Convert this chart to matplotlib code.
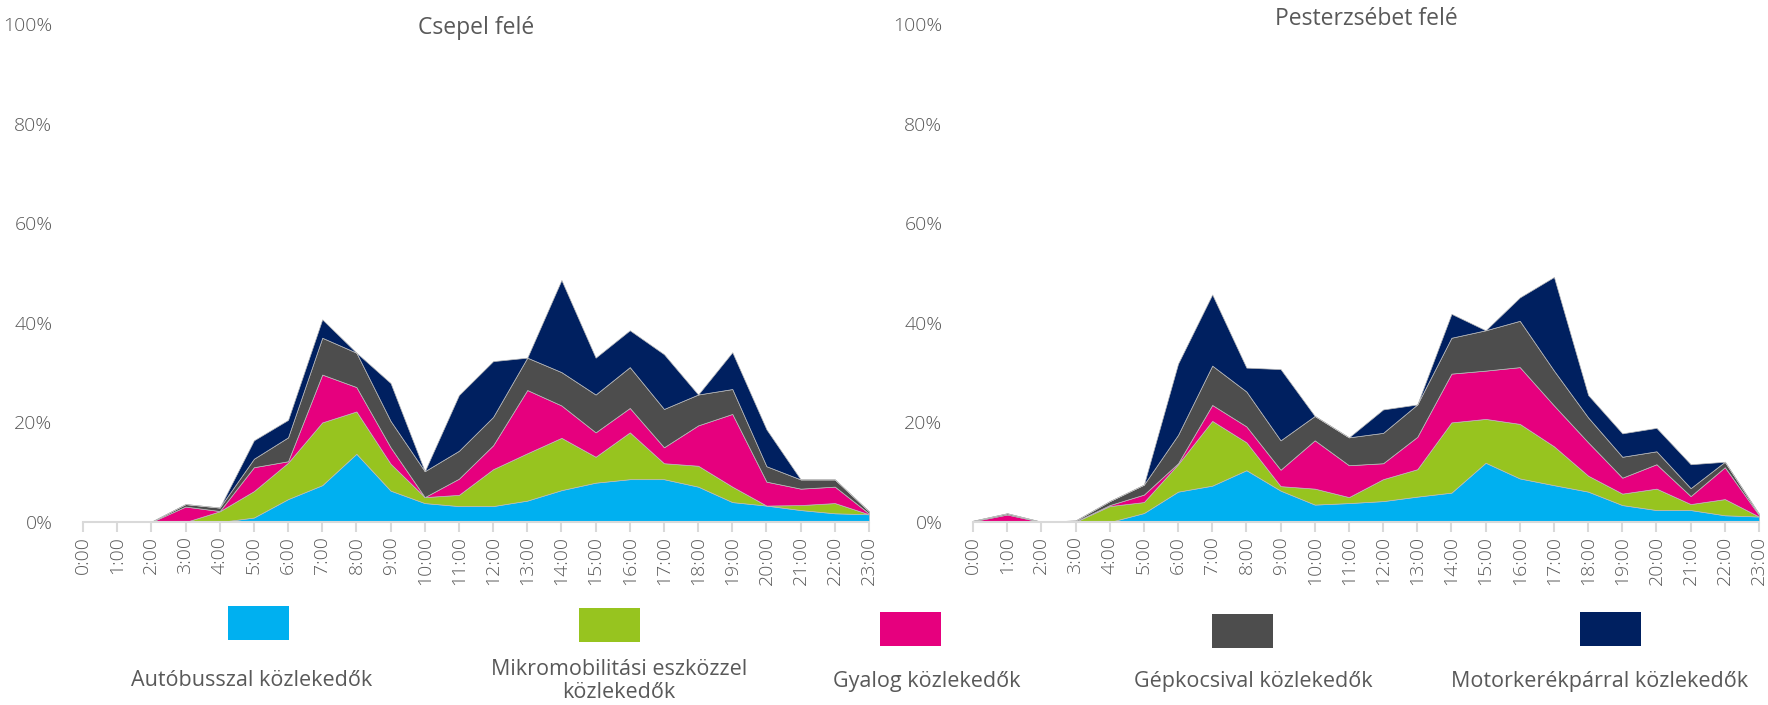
import matplotlib
matplotlib.use("Agg")
import matplotlib.pyplot as plt
from matplotlib.patches import Rectangle

W, H = 1768, 705
hours = [f"{h}:00" for h in range(24)]
yticks = [0, 20, 40, 60, 80, 100]
names = ["Autóbusszal közlekedők", "Mikromobilitási eszközzel\nközlekedők", "Gyalog közlekedők",
         "Gépkocsival közlekedők", "Motorkerékpárral közlekedők"]
colors = ["#00B0F0", "#97C41F", "#E6007E", "#4D4D4D", "#002060"]

csepel_busz = [0,0,0,0,0,0.9,4.6,7.4,13.7,6.3,3.8,3.2,3.2,4.3,6.4,7.9,8.6,8.6,7.1,4.0,3.3,2.4,1.75,1.55]
csepel_mikro = [0,0,0,0,2.15,5.3,7.3,12.6,8.5,5.4,1.2,2.25,7.4,9.5,10.5,5.2,9.4,3.2,4.2,3.1,0,1.0,2.05,0]
csepel_gyalog = [0,0,0,3.1,0.05,4.8,0.3,9.6,4.9,3.3,0,3.25,4.8,12.7,6.5,4.9,4.9,3.2,8.1,14.6,4.8,3.3,3.3,0.15]
csepel_auto = [.1,.05,.05,.5,.7,1.7,4.8,7.4,6.9,5.3,5.2,5.6,5.7,6.5,6.7,7.6,8.2,7.7,6.2,5.0,3.1,1.85,1.45,.45]
csepel_motor = [0,0,0,0,0,3.7,3.5,3.7,0,7.6,0,11.2,11.2,0,18.5,7.4,7.4,11,0,7.4,7.4,0,0,0]

pest_busz = [0,0,0,0,0,1.8,6.1,7.3,10.4,6.3,3.5,3.8,4.2,5.1,5.9,11.9,8.75,7.4,6.1,3.4,2.4,2.4,1.35,1.1]
pest_mikro = [0,0,0,.05,3.2,2.2,5.5,13,5.6,.9,3.2,1.2,4.4,5.5,14.1,8.8,10.95,7.8,3.2,2.3,4.3,1.2,3.25,0]
pest_gyalog = [.15,1.5,0,.05,.2,1.5,.2,3.2,3.2,3.3,9.7,6.4,3.2,6.5,9.8,9.7,11.4,8.2,6.7,3.2,4.9,1.6,6.4,.3]
pest_auto = [.1,.25,.05,.2,.8,2,5.7,7.9,7,5.9,4.9,5.6,6.1,6.5,7.2,8.1,9.3,7,5,4.2,2.6,1.6,1.1,.2]
pest_motor = [0,0,0,0,0,0,14.3,14.3,4.8,14.3,0,0,4.7,0,4.8,0,4.7,18.8,4.5,4.7,4.7,4.8,0,0]

plt.rcParams["font.family"] = ["Open Sans", "DejaVu Sans"]
TXT = "#595959"
fig = plt.figure(figsize=(W / 100, H / 100), dpi=100, facecolor="white")


def make_axes(x0, x1, ytop=24, ybot=522):
    return fig.add_axes([x0 / W, 1 - ybot / H, (x1 - x0) / W, (ybot - ytop) / H])


def panel(ax, series, title, title_y):
    ax.stackplot(range(24), *series, colors=colors, linewidth=0.5, edgecolor="#BBBBBB")
    ax.set_xlim(0, 23)
    ax.set_ylim(0, 100)
    ax.set_xticks(range(24), hours, rotation=90)
    ax.set_yticks(yticks, [f"{v}%" for v in yticks])
    ax.patch.set_alpha(0)
    for s in ("top", "right", "left"):
        ax.spines[s].set_visible(False)
    ax.spines["bottom"].set_color("#D9D9D9")
    ax.spines["bottom"].set_linewidth(1.5)
    ax.tick_params(axis="x", length=7, width=1.5, color="#D9D9D9", labelcolor=TXT, labelsize=14, pad=3)
    ax.tick_params(axis="y", length=0, labelcolor=TXT, labelsize=14, pad=22)
    for lab in ax.get_xticklabels() + ax.get_yticklabels():
        lab.set_fontweight(300)
    fig.text((ax.get_position().x0 + ax.get_position().x1) / 2, 1 - title_y / H, title,
             ha="center", va="center", color=TXT, fontsize=16.5)


panel(make_axes(83, 869), [csepel_busz, csepel_mikro, csepel_gyalog, csepel_auto, csepel_motor], "Csepel felé", 28)
panel(make_axes(973, 1759), [pest_busz, pest_mikro, pest_gyalog, pest_auto, pest_motor], "Pesterzsébet felé", 19)

legend_boxes = [(228, 606), (579, 608), (880, 612), (1212, 614), (1580, 612)]
legend_text = [(252, 681), (619, 681), (927, 681), (1253, 681), (1600, 681)]
for (x, y), (tx, ty), c, n in zip(legend_boxes, legend_text, colors, names):
    fig.add_artist(Rectangle((x / W, 1 - (y + 34) / H), 61 / W, 34 / H, transform=fig.transFigure, facecolor=c, edgecolor="none"))
    fig.text(tx / W, 1 - ty / H, n, ha="center", va="center", color=TXT, fontsize=15.5, linespacing=1.15)

fig.savefig("out.png", dpi=100, facecolor="white")
